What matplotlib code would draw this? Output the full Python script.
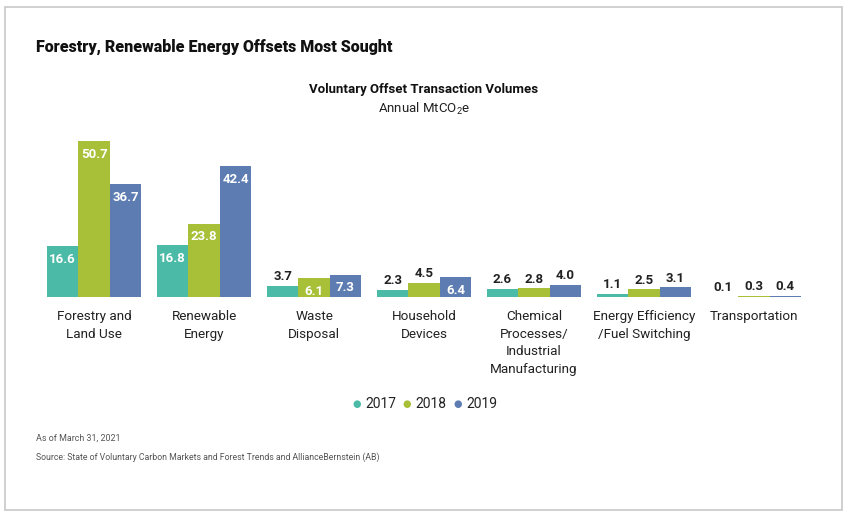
import matplotlib.pyplot as plt
from matplotlib.patches import Rectangle
import numpy as np

categories = ["Forestry and\nLand Use", "Renewable\nEnergy", "Waste\nDisposal", "Household\nDevices",
              "Chemical\nProcesses/\nIndustrial\nManufacturing", "Energy Efficiency\n/Fuel Switching",
              "Transportation"]
years = ["2017", "2018", "2019"]
v2017 = [16.6, 16.8, 3.7, 2.3, 2.6, 1.1, 0.1]
v2018 = [50.7, 23.8, 6.1, 4.5, 2.8, 2.5, 0.3]
v2019 = [36.7, 42.4, 7.3, 6.4, 4.0, 3.1, 0.4]
colors = ["#4bbaa6", "#a8bf38", "#5c7cb2"]

W, H = 850, 518
fig = plt.figure(figsize=(W / 100, H / 100), dpi=100)
plt.rcParams['font.family'] = ['Roboto', 'DejaVu Sans']
plt.rcParams['mathtext.fontset'] = 'custom'
plt.rcParams['mathtext.rm'] = 'Roboto'

# outer border
fig.patches.append(Rectangle((5 / W, 1 - 510 / H), 837 / W, 503 / H, transform=fig.transFigure,
                             fill=False, edgecolor="#c8c8c8", linewidth=1.2))

# axes placed in pixel coords: x 47..801, baseline 297, top 297-52*3.08
ytop = 52
ax = fig.add_axes([47 / W, 1 - 297 / H, 754 / W, ytop * 3.08 / H])
ax.set_xlim(-1.5, 22.5)
ax.set_ylim(0, ytop)
ax.axis("off")

x = np.arange(len(categories)) * 3.5
for i, (vals, c) in enumerate(zip([v2017, v2018, v2019], colors)):
    xs = x + (i - 1)
    ax.bar(xs, vals, width=1.0, color=c, linewidth=0)
    for xi, v in zip(xs, vals):
        if v >= 6:
            ax.annotate(f"{v:.1f}", (xi, v), xytext=(0, -9.5), textcoords="offset points",
                        ha="center", va="center", color="white", fontsize=9.5, fontweight="bold")
        else:
            ax.annotate(f"{v:.1f}", (xi, v), xytext=(0, 2), textcoords="offset points",
                        ha="center", va="bottom", color="#222222", fontsize=9.5, fontweight="bold")

for xi, lab in zip(x, categories):
    ax.annotate(lab, (xi, 0), xytext=(0, -9.5), textcoords="offset points", ha="center", va="top",
                fontsize=9.7, color="#222222", linespacing=1.45)

# titles
fig.text(36 / W, 1 - 47 / H, "Forestry, Renewable Energy Offsets Most Sought", fontsize=11.5,
         fontweight="black", va="center", ha="left", color="#111111")
fig.text(424 / W, 1 - 89 / H, "Voluntary Offset Transaction Volumes", fontsize=9.5,
         fontweight="bold", va="center", ha="center", color="#111111")
fig.text(424 / W, 1 - 109 / H, r"Annual MtCO$_2$e", fontsize=9.5, va="center", ha="center",
         color="#222222")

# legend
leg_x = [357, 407, 458]
for lx, c, yr in zip(leg_x, colors, years):
    fig.text(lx / W, 1 - 404 / H, "\u25cf", color=c, fontsize=7, ha="center", va="center",
             family="DejaVu Sans")
    fig.text((lx + 8) / W, 1 - 404 / H, yr, fontsize=10, ha="left", va="center", color="#222222")

# footnotes
fig.text(36 / W, 1 - 438 / H, "As of March 31, 2021", fontsize=6.4, color="#555555", va="center")
fig.text(36 / W, 1 - 457 / H,
         "Source: State of Voluntary Carbon Markets and Forest Trends and AllianceBernstein (AB)",
         fontsize=6.3, color="#555555", va="center")

fig.savefig("out.png", dpi=100)
